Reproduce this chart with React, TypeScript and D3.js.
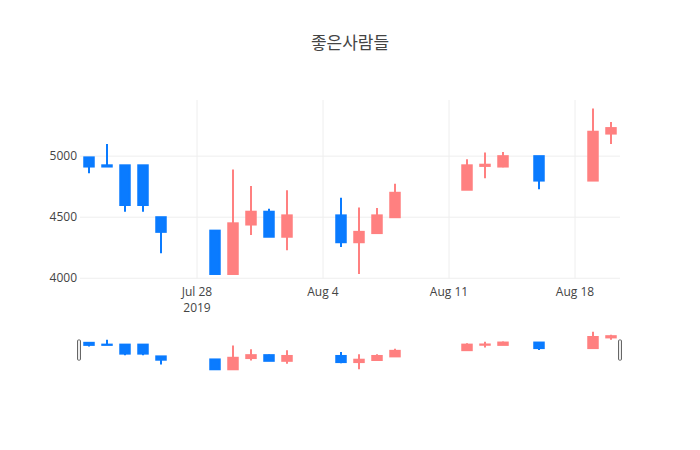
import React from "react";
import * as d3 from "d3";

const title = "좋은사람들";
const dates = [
  "2019-07-22", "2019-07-23", "2019-07-24", "2019-07-25", "2019-07-26",
  "2019-07-29", "2019-07-30", "2019-07-31", "2019-08-01", "2019-08-02",
  "2019-08-05", "2019-08-06", "2019-08-07", "2019-08-08",
  "2019-08-12", "2019-08-13", "2019-08-14", "2019-08-16",
  "2019-08-19", "2019-08-20",
];
const opens = [4990, 4925, 4925, 4925, 4500, 4390, 4035, 4440, 4545, 4340, 4515, 4295, 4370, 4500, 4725, 4920, 4915, 5000, 4800, 5185];
const highs = [4990, 5100, 4925, 4925, 4500, 4390, 4890, 4755, 4570, 4720, 4660, 4580, 4575, 4775, 4975, 5030, 5035, 5000, 5390, 5280];
const lows = [4860, 4915, 4545, 4545, 4205, 4035, 4035, 4355, 4340, 4230, 4255, 4035, 4370, 4500, 4725, 4820, 4910, 4730, 4800, 5100];
const closes = [4915, 4915, 4600, 4600, 4380, 4035, 4450, 4545, 4340, 4515, 4295, 4380, 4515, 4700, 4925, 4930, 5000, 4800, 5200, 5230];

const yTicks = [4000, 4500, 5000];
const xTickDates = ["2019-07-28", "2019-08-04", "2019-08-11", "2019-08-18"];
const xTickLabels = ["Jul 28", "Aug 4", "Aug 11", "Aug 18"];
const yearLabel = "2019";

const W = 700, H = 450;
const L = 80, R = 620, T = 100, B = 278.5;
const sT = 329.8, sB = 370.3;
const UP = "#FF8080", DOWN = "#0A7BFF";
const FONT = "'Open Sans', 'Noto Sans CJK KR', verdana, arial, sans-serif";

const parse = (s: string) => new Date(s + "T00:00:00Z");
const HALF_DAY = 12 * 3600e3;

export default function App() {
  const x = d3.scaleUtc()
    .domain([parse(dates[0]).getTime() - HALF_DAY, parse(dates[dates.length - 1]).getTime() + HALF_DAY])
    .range([L, R]);
  const y = d3.scaleLinear().domain([3998, 5460]).range([B, T]);
  const ys = d3.scaleLinear().domain([3998, 5460]).range([sB, sT]);
  const bw = 9.5;

  const candles = (yy: d3.ScaleLinear<number, number>, key: string) =>
    dates.map((d, i) => {
      const cx = x(parse(d));
      const up = closes[i] >= opens[i];
      const col = up ? UP : DOWN;
      const top = yy(Math.max(opens[i], closes[i]));
      const bot = yy(Math.min(opens[i], closes[i]));
      return (
        <g key={key + i}>
          <line x1={cx} x2={cx} y1={yy(highs[i])} y2={yy(lows[i])} stroke={col} strokeWidth={2} />
          <rect x={cx - bw / 2} y={top} width={bw} height={Math.max(0, bot - top)} fill={col} stroke={col} strokeWidth={2} />
        </g>
      );
    });

  return (
    <div style={{ position: "fixed", left: 0, top: 0 }}>
      <svg width={W} height={H} style={{ display: "block", background: "#fff" }} fontFamily={FONT}>
        <rect x={0} y={0} width={W} height={H} fill="#fff" />
        <text x={350} y={50} textAnchor="middle" fontSize={17} fill="#444" dy="-0.05em">{title}</text>
        {xTickDates.map((d) => (
          <line key={"vg" + d} x1={x(parse(d))} x2={x(parse(d))} y1={T} y2={B} stroke="#eee" strokeWidth={1} />
        ))}
        {yTicks.map((v) => (
          <line key={"hg" + v} x1={L} x2={R} y1={y(v)} y2={y(v)} stroke="#eee" strokeWidth={1} />
        ))}
        {yTicks.map((v) => (
          <text key={"yt" + v} x={77} y={y(v)} dy="0.35em" textAnchor="end" fontSize={12} fill="#444">{v}</text>
        ))}
        {xTickDates.map((d, i) => (
          <text key={"xt" + d} x={x(parse(d))} y={296.3} textAnchor="middle" fontSize={12} fill="#444">
            {xTickLabels[i]}
          </text>
        ))}
        <text x={x(parse(xTickDates[0]))} y={311.6} textAnchor="middle" fontSize={12} fill="#444">{yearLabel}</text>
        <g>{candles(y, "m")}</g>
        <g>{candles(ys, "s")}</g>
        <rect x={77.5} y={sT + (sB - sT) / 4} width={3} height={(sB - sT) / 2} rx={1} fill="#eee" stroke="#666" strokeWidth={1} />
        <rect x={618.5} y={sT + (sB - sT) / 4} width={3} height={(sB - sT) / 2} rx={1} fill="#eee" stroke="#666" strokeWidth={1} />
      </svg>
    </div>
  );
}
